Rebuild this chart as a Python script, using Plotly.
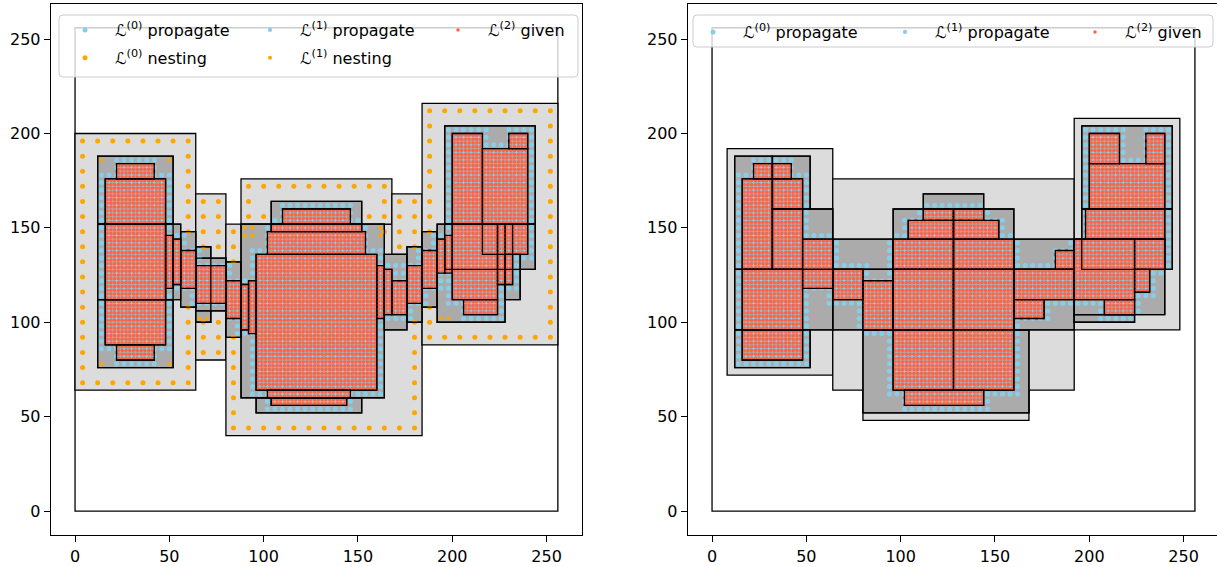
import numpy as np
import plotly.graph_objects as go

# Composite mesh hierarchy: boxes are (x0, x1, y0, y1) in cell units.
DOMAIN = 256
H0, H1, H2 = 8, 4, 2          # cell widths of levels 0, 1 and 2
TICKS = [0, 50, 100, 150, 200, 250]

# ---- left panel: nested patches ----
left_l0 = [(0, 64, 64, 200), (64, 80, 80, 168), (80, 184, 40, 152),
           (88, 168, 152, 176), (168, 184, 136, 168), (184, 256, 88, 216)]
left_l1 = [(12, 52, 152, 188), (12, 52, 112, 152), (12, 52, 76, 112),
           (48, 56, 112, 152), (56, 64, 108, 148), (64, 72, 100, 140),
           (64, 80, 106, 134), (80, 88, 92, 132),
           (88, 164, 60, 152), (104, 152, 152, 164), (96, 152, 52, 60),
           (164, 176, 96, 136), (176, 184, 100, 140), (184, 192, 108, 148),
           (196, 244, 152, 204), (196, 244, 128, 152), (192, 228, 100, 152),
           (228, 236, 112, 136)]
left_l2 = [(22, 42, 176, 184), (16, 48, 152, 176), (16, 48, 112, 152),
           (16, 48, 88, 112), (22, 42, 80, 88),
           (48, 52, 118, 146), (52, 56, 120, 144), (56, 64, 118, 138),
           (64, 80, 110, 130), (80, 88, 102, 122), (88, 92, 96, 120),
           (92, 96, 94, 122),
           (96, 160, 64, 136), (102, 154, 136, 148), (104, 152, 148, 152),
           (110, 146, 152, 160), (102, 146, 60, 64), (104, 144, 56, 60),
           (160, 164, 102, 130), (164, 168, 104, 128), (168, 176, 104, 122),
           (176, 184, 110, 130), (184, 192, 118, 138), (192, 196, 126, 144),
           (196, 200, 126, 146),
           (200, 216, 152, 200), (216, 240, 136, 192), (230, 240, 192, 200),
           (200, 224, 112, 152), (224, 232, 120, 152), (206, 224, 104, 112)]

# ---- right panel: propagated patches ----
right_l0 = [(8, 64, 72, 192), (64, 192, 64, 176), (80, 168, 48, 64),
            (192, 248, 96, 208)]
right_l1 = [(12, 32, 128, 188), (32, 52, 160, 188), (32, 64, 128, 160),
            (12, 64, 96, 128), (12, 52, 76, 96),
            (64, 96, 128, 144), (64, 96, 96, 128), (80, 168, 52, 96),
            (96, 128, 128, 160), (128, 160, 128, 160), (96, 128, 96, 128),
            (128, 160, 96, 128), (112, 144, 160, 168),
            (160, 192, 128, 144), (160, 192, 96, 128),
            (196, 244, 160, 204), (196, 244, 128, 160), (192, 240, 104, 144),
            (192, 224, 100, 104)]
right_l2 = [(22, 32, 176, 184), (32, 42, 176, 184), (16, 32, 128, 176),
            (32, 48, 160, 176), (32, 48, 128, 160), (16, 48, 96, 128),
            (16, 48, 80, 96),
            (48, 64, 118, 144), (64, 80, 112, 128), (80, 96, 96, 122),
            (112, 128, 154, 160), (128, 144, 154, 160), (104, 128, 144, 154),
            (128, 152, 144, 154), (96, 128, 128, 144), (128, 160, 128, 144),
            (96, 128, 96, 128), (128, 160, 64, 128), (96, 128, 64, 96),
            (102, 144, 56, 64),
            (160, 192, 112, 128), (160, 176, 102, 112), (182, 192, 128, 138),
            (200, 216, 184, 200), (230, 240, 184, 200), (200, 240, 160, 184),
            (198, 240, 144, 160), (224, 240, 128, 144), (192, 224, 112, 144),
            (224, 232, 116, 128), (208, 224, 104, 112)]

C_L0 = "#dcdcdc"
C_L1 = "#ababab"
C_BLUE = "skyblue"
C_ORANGE = "orange"
C_RED = "tomato"

RING = 2      # coarse cells this close to a fine patch propagate
NEST = 6      # coarse cells farther than this are nesting cells


def centers(lo, hi, h):
    k = np.arange(np.floor(lo / h) - 1, np.ceil(hi / h) + 1)
    c = h / 2 + h * k
    return c[(c > lo) & (c < hi)]


def inside(p, boxes):
    return any(b[0] < p[0] < b[1] and b[2] < p[1] < b[3] for b in boxes)


def dist(p, boxes):
    best = 1e9
    for x0, x1, y0, y1 in boxes:
        dx = max(x0 - p[0], 0, p[0] - x1)
        dy = max(y0 - p[1], 0, p[1] - y1)
        best = min(best, max(dx, dy))
    return best


def cells(boxes, h):
    pts = set()
    for x0, x1, y0, y1 in boxes:
        for x in centers(x0, x1, h):
            for y in centers(y0, y1, h):
                pts.add((float(x), float(y)))
    return pts


def rim_cells(boxes, h, exclude):
    pts = set()
    for x0, x1, y0, y1 in boxes:
        xs, ys = centers(x0, x1, h), centers(y0, y1, h)
        for x in xs:
            for y in ys:
                if x in (xs[0], xs[-1]) or y in (ys[0], ys[-1]):
                    p = (float(x), float(y))
                    if not inside(p, exclude):
                        pts.add(p)
    return pts


def level_points(l1, l2):
    given = cells(l2, H2)
    under = {p for p in cells(l2, H1) if inside(p, l2)}
    ring, nest = set(), set()
    for p in cells(l1, H1):
        if p in under:
            continue
        d = dist(p, l2)
        if d <= RING:
            ring.add(p)
        elif d > NEST:
            nest.add(p)
    return given, under, ring, nest


def xy(pts):
    pts = sorted(pts)
    return [p[0] for p in pts], [p[1] for p in pts]


fig = go.Figure()


def add_pts(pts, color, size, name, legend, rank, xa, ya):
    x, y = xy(pts)
    fig.add_trace(go.Scatter(
        x=x, y=y, mode="markers", name=name, legend=legend, legendrank=rank,
        legendgroup=name + xa,
        marker=dict(color=color, size=size, line=dict(width=0)),
        xaxis=xa, yaxis=ya, hoverinfo="skip"))


lab = lambda k, s: "\u2112<sup>(%d)</sup> %s" % (k, s)

# left panel points
lg, lu, lr, ln = level_points(left_l1, left_l2)
l0_nest = rim_cells(left_l0, H0, left_l1)
add_pts(l0_nest, C_ORANGE, 5, lab(0, "nesting"), "legend", 2, "x", "y")
add_pts(ln, C_ORANGE, 4, lab(1, "nesting"), "legend2", 2, "x", "y")
add_pts(lr, C_BLUE, 5, lab(0, "propagate"), "legend", 1, "x", "y")
add_pts(lu, C_BLUE, 4.2, lab(1, "propagate"), "legend2", 1, "x", "y")
add_pts(lg, C_RED, 3.5, lab(2, "given"), "legend3", 1, "x", "y")

# right panel points
rg, ru, rr, rn = level_points(right_l1, right_l2)
add_pts(rr, C_BLUE, 5, lab(0, "propagate"), "legend4", 1, "x2", "y2")
add_pts(ru, C_BLUE, 4.2, lab(1, "propagate"), "legend5", 1, "x2", "y2")
add_pts(rg, C_RED, 3.5, lab(2, "given"), "legend6", 1, "x2", "y2")

shapes = []
EDGE = 1.3


def box_shapes(boxes, fill, xr, yr, layer):
    for x0, x1, y0, y1 in boxes:
        shapes.append(dict(type="rect", xref=xr, yref=yr, x0=x0, x1=x1,
                           y0=y0, y1=y1, layer=layer,
                           fillcolor=fill if fill else "rgba(0,0,0,0)",
                           line=dict(color="black", width=EDGE)))


for xr, yr, l0, l1, l2 in (("x", "y", left_l0, left_l1, left_l2),
                           ("x2", "y2", right_l0, right_l1, right_l2)):
    shapes.append(dict(type="rect", xref=xr, yref=yr, x0=0, x1=DOMAIN,
                       y0=0, y1=DOMAIN, layer="below",
                       line=dict(color="black", width=EDGE)))
    box_shapes(l0, C_L0, xr, yr, "below")
    box_shapes(l1, C_L1, xr, yr, "below")
    box_shapes(l2, None, xr, yr, "below")
    box_shapes(l1, None, xr, yr, "above")
    box_shapes(l2, None, xr, yr, "above")

W, HGT = 1217, 567


def legend_frame(x0, y0, x1, y1, r=4):
    X = lambda v: v / W
    Y = lambda v: 1 - v / HGT
    rx, ry = r / W, r / HGT
    a, b, c, d = X(x0), Y(y0), X(x1), Y(y1)
    path = (f"M {a+rx},{b} L {c-rx},{b} Q {c},{b} {c},{b-ry} "
            f"L {c},{d+ry} Q {c},{d} {c-rx},{d} L {a+rx},{d} "
            f"Q {a},{d} {a},{d+ry} L {a},{b-ry} Q {a},{b} {a+rx},{b} Z")
    shapes.append(dict(type="path", xref="paper", yref="paper", path=path,
                       fillcolor="rgba(255,255,255,0.8)", layer="above",
                       line=dict(color="#cccccc", width=1)))


legend_frame(59, 15, 578, 77)
legend_frame(693, 15, 1213, 47)

fig.update_layout(shapes=shapes)


def legend_at(px, py):
    return dict(x=px / W, y=1 - py / HGT, xanchor="left", yanchor="top",
                bgcolor="rgba(0,0,0,0)", borderwidth=0, itemwidth=50,
                tracegroupgap=4, traceorder="grouped",
                font=dict(family="DejaVu Sans", size=16, color="black"))


axis = dict(tickvals=TICKS, ticks="outside", ticklen=6, tickwidth=1.3,
            tickcolor="black", showline=True, linecolor="black",
            linewidth=1.3, showgrid=False, zeroline=False,
            tickfont=dict(family="DejaVu Sans", size=16, color="black"))
ydom = [1 - 535.2 / HGT, 1 - 3.6 / HGT]

fig.update_layout(
    width=W, height=HGT, margin=dict(l=0, r=0, t=0, b=0),
    plot_bgcolor="white", paper_bgcolor="white",
    font=dict(family="DejaVu Sans", size=16, color="black"),
    xaxis=dict(axis, domain=[50.9 / W, 582 / W], range=[-12.8, 268.8],
               mirror=True, anchor="y"),
    yaxis=dict(axis, domain=ydom, range=[-12.8, 268.8], mirror=True,
               anchor="x"),
    xaxis2=dict(axis, domain=[687.9 / W, 1], range=[-12.8, 267.7],
                mirror=True, anchor="y2"),
    yaxis2=dict(axis, domain=ydom, range=[-12.8, 268.8], mirror=False,
                anchor="x2"),
    legend=legend_at(55, 13), legend2=legend_at(240, 13),
    legend3=legend_at(428, 13),
    legend4=legend_at(683, 15), legend5=legend_at(875, 15),
    legend6=legend_at(1065, 15),
)

fig.write_html("out.html")
